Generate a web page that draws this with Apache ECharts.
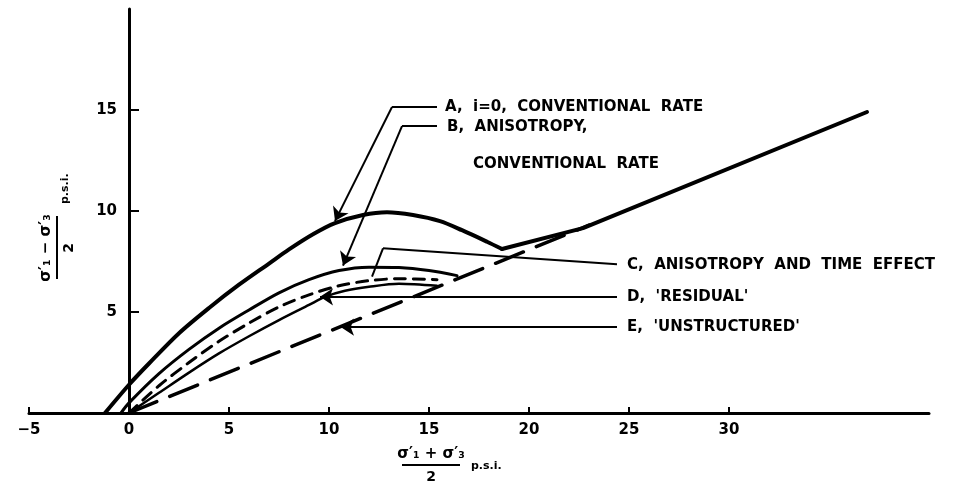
<!DOCTYPE html>
<html>
<head>
<meta charset="utf-8">
<script src="https://cdn.jsdelivr.net/npm/echarts@6/dist/echarts.min.js"></script>
<style>
  html, body { margin: 0; padding: 0; background: #fff; }
  #chart { width: 958px; height: 491px; }
</style>
</head>
<body>
<div id="chart"></div>
<script>
// tick values
const xTicks = [-5, 0, 5, 10, 15, 20, 25, 30];
const yTicks = [5, 10, 15];

// curves, [p, q] in p.s.i.
const curveA = [[-1.2, 0], [0, 1.4], [1, 2.45], [2.5, 3.95], [4, 5.2], [5.5, 6.35], [7, 7.4], [8, 8.1], [9.2, 8.85],
  [10.3, 9.4], [11.7, 9.8], [12.9, 9.94], [14.2, 9.8], [15.55, 9.5], [16.65, 9.05], [17.9, 8.48], [18.65, 8.12]];
const tailA = [[18.65, 8.12], [22.7, 9.15], [36.9, 14.9]];
const curveB = [[-0.4, 0], [0, 0.5], [1.5, 1.95], [3, 3.15], [4.5, 4.2], [6, 5.1], [7.5, 5.95], [9, 6.6], [10.5, 7.05],
  [12, 7.22], [13.5, 7.2], [15, 7.05], [16.4, 6.8]];
const curveC = [[0, 0], [1.5, 1.35], [3, 2.5], [4.5, 3.55], [6, 4.45], [7.5, 5.25], [9, 5.85], [10.5, 6.3], [12, 6.55],
  [13.5, 6.65], [15.4, 6.6]];
const curveD = [[0, 0], [1.5, 1.0], [3, 2.0], [4.5, 2.95], [6, 3.8], [7.5, 4.6], [9, 5.35], [9.8, 5.75], [10.8, 6.05],
  [12, 6.25], [13.5, 6.4], [15.4, 6.3]];
const curveE = [[0, 0], [23, 9.3]];

// leader lines to the notes
const leadersPlain = [
  [[15.4, 15.15], [13.15, 15.15]],
  [[15.4, 14.2], [13.65, 14.2]],
  [[24.4, 7.36], [12.7, 8.15]],
  [[12.7, 8.15], [12.15, 6.75]]
];
const leadersArrow = [
  [[13.15, 15.15], [10.3, 9.5]],
  [[13.65, 14.2], [10.7, 7.3]],
  [[24.4, 5.75], [9.55, 5.75]],
  [[24.4, 4.25], [10.6, 4.25]]
];

const notes = [
  { text: "A,  i=0,  CONVENTIONAL  RATE", x: 445, y: 107 },
  { text: "B,  ANISOTROPY,", x: 447, y: 127 },
  { text: "CONVENTIONAL  RATE", x: 473, y: 164 },
  { text: "C,  ANISOTROPY  AND  TIME  EFFECT", x: 627, y: 265 },
  { text: "D,  'RESIDUAL'", x: 627, y: 297 },
  { text: "E,  'UNSTRUCTURED'", x: 627, y: 327 }
];

const FONT = "DejaVu Sans";
const chart = echarts.init(document.getElementById("chart"));

function curve(name, data, width, type, smooth) {
  return {
    name: name,
    type: "line",
    data: data,
    smooth: smooth,
    symbol: "none",
    silent: true,
    lineStyle: { color: "#000", width: width, type: type, cap: "round" }
  };
}

const option = {
  animation: false,
  backgroundColor: "#fff",
  grid: { left: 29, right: 29, top: 9, bottom: 78, outerBoundsMode: "none" },
  xAxis: {
    type: "value",
    min: -5,
    max: 40,
    interval: 5,
    axisLine: { onZero: false, lineStyle: { color: "#000", width: 3 } },
    axisTick: { inside: true, length: 6, customValues: xTicks, lineStyle: { color: "#000", width: 2 } },
    axisLabel: {
      customValues: xTicks,
      margin: 10,
      color: "#000",
      fontFamily: FONT,
      fontWeight: "bold",
      fontSize: 15,
      formatter: (v) => (v < 0 ? "\u2212" + Math.abs(v) : String(v))
    },
    splitLine: { show: false }
  },
  yAxis: {
    type: "value",
    min: 0,
    max: 20,
    interval: 5,
    // the axis stands on p = 0, 100 px right of the grid edge
    offset: -100,
    axisLine: { onZero: false, lineStyle: { color: "#000", width: 3 } },
    axisTick: { inside: true, length: 10, customValues: yTicks, lineStyle: { color: "#000", width: 2 } },
    axisLabel: {
      customValues: yTicks,
      margin: 12,
      color: "#000",
      fontFamily: FONT,
      fontWeight: "bold",
      fontSize: 15
    },
    splitLine: { show: false }
  },
  series: [
    curve("A", curveA, 4, "solid", 0.3),
    curve("A tail", tailA, 4, "solid", false),
    curve("B", curveB, 3, "solid", 0.3),
    curve("C", curveC, 3, [11, 8], 0.3),
    curve("D", curveD, 2.5, "solid", 0.3),
    curve("E", curveE, 3.5, [30, 14], false),
    {
      type: "lines",
      coordinateSystem: "cartesian2d",
      silent: true,
      symbol: "none",
      lineStyle: { color: "#000", width: 2, opacity: 1 },
      data: leadersPlain.map((c) => ({ coords: c }))
    },
    {
      type: "lines",
      coordinateSystem: "cartesian2d",
      silent: true,
      symbol: ["none", "arrow"],
      symbolSize: [7, 13],
      lineStyle: { color: "#000", width: 2, opacity: 1 },
      data: leadersArrow.map((c) => ({ coords: c }))
    }
  ],
  graphic: [
    ...notes.map((n) => ({
      type: "text",
      x: n.x,
      y: n.y,
      style: {
        text: n.text,
        fill: "#000",
        font: "bold 15px '" + FONT + "'",
        verticalAlign: "middle",
        align: "left"
      }
    })),
    // x axis name
    {
      type: "group",
      x: 431,
      y: 465,
      children: [
        { type: "text", x: 0, y: -11, style: { text: "σ\u2032\u2081 + σ\u2032\u2083", fill: "#000", font: "bold 15px '" + FONT + "'", align: "center", verticalAlign: "middle" } },
        { type: "line", shape: { x1: -29, y1: 0, x2: 29, y2: 0 }, style: { stroke: "#000", lineWidth: 2 } },
        { type: "text", x: 0, y: 12, style: { text: "2", fill: "#000", font: "bold 14px '" + FONT + "'", align: "center", verticalAlign: "middle" } },
        { type: "text", x: 40, y: 1, style: { text: "p.s.i.", fill: "#000", font: "bold 11px '" + FONT + "'", align: "left", verticalAlign: "middle" } }
      ]
    },
    // y axis name
    {
      type: "group",
      x: 57,
      y: 248,
      rotation: Math.PI / 2,
      children: [
        { type: "text", x: 0, y: -11, style: { text: "σ\u2032\u2081 \u2212 σ\u2032\u2083", fill: "#000", font: "bold 15px '" + FONT + "'", align: "center", verticalAlign: "middle" } },
        { type: "line", shape: { x1: -31, y1: 0, x2: 32, y2: 0 }, style: { stroke: "#000", lineWidth: 2 } },
        { type: "text", x: 0, y: 12, style: { text: "2", fill: "#000", font: "bold 14px '" + FONT + "'", align: "center", verticalAlign: "middle" } },
        { type: "text", x: 44, y: 8, style: { text: "p.s.i.", fill: "#000", font: "bold 11px '" + FONT + "'", align: "left", verticalAlign: "middle" } }
      ]
    }
  ]
};

chart.setOption(option);
window.addEventListener("resize", () => chart.resize());
</script>
</body>
</html>
